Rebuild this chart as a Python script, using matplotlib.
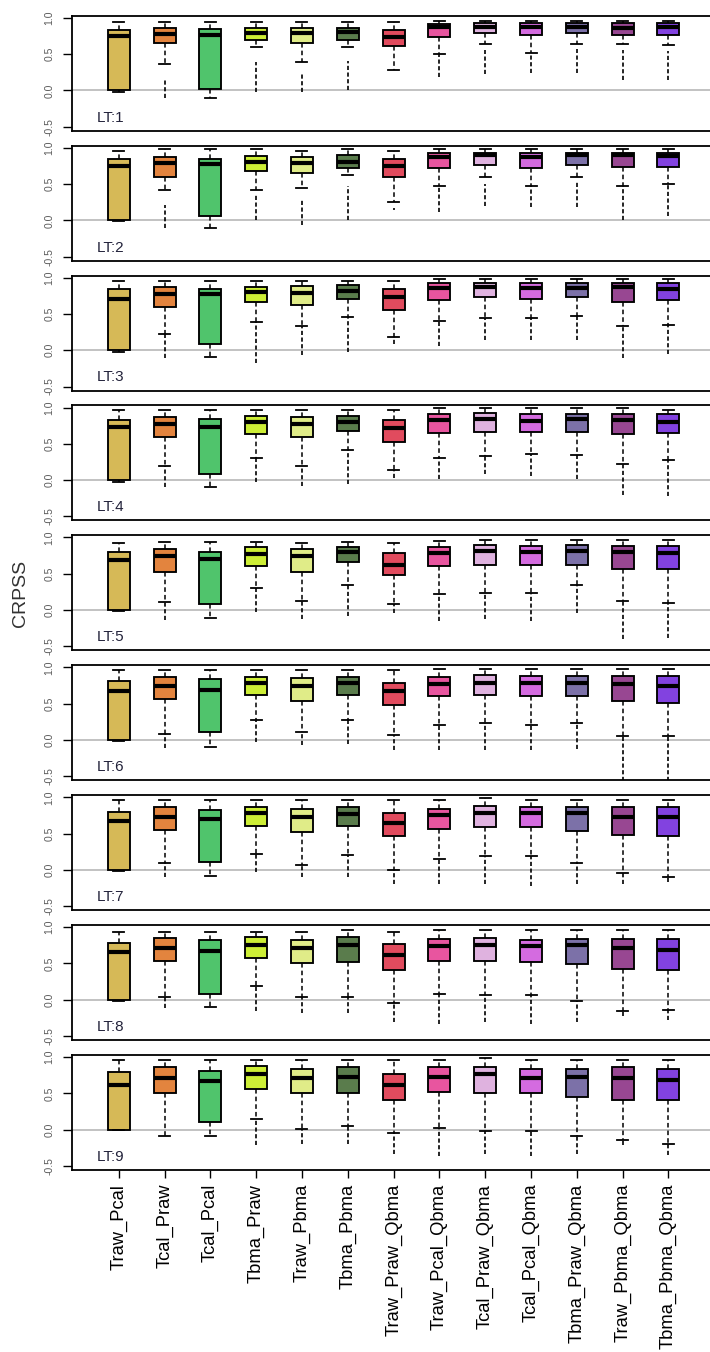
import matplotlib
matplotlib.use("Agg")
import matplotlib.pyplot as plt

plt.rcParams["font.family"] = ["Liberation Sans", "DejaVu Sans"]

methods = ["Traw_Pcal", "Tcal_Praw", "Tcal_Pcal", "Tbma_Praw", "Traw_Pbma",
           "Tbma_Pbma", "Traw_Praw_Qbma", "Traw_Pcal_Qbma", "Tcal_Praw_Qbma",
           "Tcal_Pcal_Qbma", "Tbma_Praw_Qbma", "Traw_Pbma_Qbma", "Tbma_Pbma_Qbma"]
lead_times = ["LT:1", "LT:2", "LT:3", "LT:4", "LT:5", "LT:6", "LT:7", "LT:8", "LT:9"]
colors = ["#D6B957", "#E3843E", "#50C46C", "#CDEE36", "#E0EC88", "#5A7C4C",
          "#E14B5E", "#E8559F", "#DFB2DF", "#D46BE0", "#7C71A8", "#984792", "#8242E0"]

# upper whisker end (max)
upper = [
    [.94, .94, .94, .94, .94, .94, .94, .96, .96, .96, .96, .96, .96],
    [.96, .98, .98, .98, .96, .98, .96, .98, .98, .98, .98, .98, .98],
    [.96, .96, .96, .96, .96, .96, .96, .98, .98, .98, .98, .98, .98],
    [.96, .97, .97, .97, .97, .97, .97, .99, .99, .99, .99, .99, .97],
    [.93, .94, .94, .94, .93, .94, .92, .95, .96, .96, .96, .96, .96],
    [.96, .96, .96, .96, .96, .96, .96, .98, .98, .98, .98, .98, .98],
    [.96, .96, .96, .96, .96, .96, .96, .96, .99, .96, .96, .96, .96],
    [.94, .94, .94, .94, .94, .96, .94, .96, .96, .96, .96, .96, .96],
    [.96, .96, .96, .96, .96, .96, .96, .96, .99, .96, .96, .96, .96],
]
# third quartile
q3 = [
    [.83, .86, .84, .86, .86, .86, .83, .91, .93, .93, .93, .93, .93],
    [.84, .87, .85, .89, .87, .90, .85, .93, .93, .93, .93, .93, .93],
    [.84, .87, .84, .87, .88, .90, .84, .93, .93, .92, .93, .92, .92],
    [.83, .87, .84, .88, .87, .88, .83, .91, .93, .91, .91, .91, .91],
    [.80, .84, .80, .87, .84, .87, .78, .87, .90, .88, .89, .88, .88],
    [.81, .87, .84, .87, .85, .87, .79, .87, .89, .88, .88, .88, .88],
    [.80, .87, .82, .87, .84, .87, .79, .84, .88, .87, .87, .87, .87],
    [.78, .85, .82, .86, .82, .86, .77, .84, .85, .83, .84, .84, .84],
    [.80, .86, .81, .88, .84, .86, .77, .86, .86, .84, .84, .86, .84],
]
# median
median = [
    [.75, .78, .76, .79, .79, .80, .73, .87, .88, .87, .87, .86, .87],
    [.75, .79, .77, .80, .79, .81, .75, .87, .90, .87, .90, .90, .88],
    [.71, .78, .78, .80, .79, .82, .73, .86, .87, .86, .86, .87, .85],
    [.73, .77, .73, .80, .78, .80, .72, .83, .84, .82, .84, .83, .80],
    [.69, .74, .70, .77, .74, .80, .62, .78, .82, .80, .82, .80, .78],
    [.67, .75, .69, .79, .75, .79, .67, .77, .79, .79, .79, .77, .75],
    [.67, .73, .70, .78, .73, .77, .65, .76, .78, .78, .78, .73, .73],
    [.66, .71, .67, .75, .71, .75, .62, .74, .76, .74, .76, .71, .69],
    [.62, .71, .67, .76, .71, .73, .62, .73, .76, .71, .73, .71, .69],
]
# first quartile
q1 = [
    [.00, .66, .02, .69, .66, .69, .61, .73, .79, .76, .79, .77, .77],
    [.00, .60, .06, .68, .65, .72, .60, .72, .76, .72, .76, .73, .73],
    [.00, .60, .08, .67, .63, .71, .56, .69, .73, .71, .73, .67, .69],
    [.00, .59, .08, .64, .59, .68, .52, .65, .67, .67, .67, .63, .65],
    [.00, .53, .08, .61, .53, .66, .48, .60, .62, .62, .62, .57, .57],
    [.00, .56, .11, .62, .54, .62, .48, .60, .62, .60, .60, .54, .51],
    [.00, .55, .11, .60, .52, .60, .47, .56, .59, .59, .54, .48, .47],
    [.00, .53, .08, .58, .50, .52, .41, .54, .54, .52, .49, .43, .41],
    [.00, .50, .11, .56, .50, .50, .41, .52, .50, .50, .45, .41, .41],
]
# lower whisker end
lower = [
    [-.02, .37, -.10, .60, .39, .60, .28, .50, .64, .51, .64, .64, .62],
    [-.01, .42, -.10, .42, .44, .62, .25, .48, .60, .47, .60, .48, .50],
    [-.02, .23, -.10, .39, .33, .46, .18, .40, .45, .45, .47, .33, .35],
    [-.02, .19, -.09, .31, .20, .41, .14, .31, .33, .36, .35, .22, .28],
    [-.02, .11, -.11, .31, .12, .35, .08, .22, .24, .24, .35, .13, .10],
    [-.01, .08, -.10, .27, .11, .27, .07, .21, .23, .21, .23, .05, .05],
    [-.02, .09, -.09, .22, .07, .20, .00, .15, .19, .19, .09, -.05, -.10],
    [-.02, .04, -.10, .19, .04, .04, -.04, .08, .06, .06, -.02, -.16, -.14],
    [.00, -.09, -.09, .15, .01, .05, -.04, .02, -.02, -.02, -.09, -.14, -.20],
]
# highest value lying below the lower whisker
out_top = [
    [-.02, .15, -.10, .39, .22, .41, .21, .50, .56, .51, .57, .56, .54],
    [-.01, .21, -.10, .36, .29, .47, .17, .48, .50, .47, .53, .48, .50],
    [-.02, .23, -.10, .39, .33, .46, .18, .40, .45, .45, .47, .33, .35],
    [-.02, .19, -.09, .31, .20, .41, .14, .31, .33, .36, .35, .22, .28],
    [-.02, .11, -.11, .31, .12, .35, .08, .22, .24, .24, .35, .13, .10],
    [-.01, .08, -.10, .27, .11, .27, .07, .21, .23, .21, .23, .05, .05],
    [-.02, .09, -.09, .22, .07, .20, .00, .15, .19, .19, .09, -.05, -.10],
    [-.02, .04, -.10, .19, .04, .04, -.04, .08, .06, .06, -.02, -.16, -.14],
    [.00, -.09, -.09, .15, .01, .05, -.04, .02, -.02, -.02, -.09, -.14, -.20],
]
# lowest value
out_min = [
    [-.02, -.11, -.10, -.02, -.02, .00, .21, .19, .23, .24, .24, .14, .14],
    [-.01, -.11, -.10, .00, -.06, .00, .14, .12, .20, .18, .18, .00, .06],
    [-.02, -.11, -.10, -.18, -.07, -.03, .08, .06, .14, .14, .14, -.11, -.05],
    [-.02, -.10, -.09, -.02, -.08, -.05, .03, .01, .08, .06, .01, -.20, -.22],
    [-.02, -.14, -.11, -.03, -.13, -.08, -.04, -.15, -.13, -.15, -.04, -.40, -.39],
    [-.01, -.11, -.10, -.03, -.07, -.05, -.14, -.14, -.14, -.14, -.13, -.56, -.56],
    [-.02, -.10, -.09, -.03, -.10, -.10, -.20, -.20, -.20, -.22, -.20, -.20, -.17],
    [-.02, -.12, -.10, -.16, -.18, -.18, -.31, -.33, -.31, -.33, -.31, -.23, -.28],
    [.00, -.09, -.09, -.21, -.20, -.20, -.34, -.36, -.34, -.36, -.34, -.21, -.35],
]

W, H = 710, 1352
fig = plt.figure(figsize=(W / 100, H / 100), dpi=100)

left_px, width_px = 71.6, 644.0
top0_px, pitch_px, panel_h = 15.7, 129.9, 115.0
positions = list(range(1, len(methods) + 1))

for p, lt in enumerate(lead_times):
    top_px = top0_px + pitch_px * p
    ax = fig.add_axes([left_px / W, 1 - (top_px + panel_h) / H,
                       width_px / W, panel_h / H])
    ax.set_xlim(-0.03, 14.03)
    ax.set_ylim(-0.555, 1.03)
    ax.axhline(0, color="#bdbdbd", lw=1.3, zorder=0)

    stats = []
    for k in range(len(methods)):
        stats.append(dict(med=median[p][k], q1=q1[p][k], q3=q3[p][k],
                          whislo=lower[p][k], whishi=upper[p][k], fliers=[]))
    bp = ax.bxp(stats, positions=positions, widths=0.48, capwidths=0.24,
                patch_artist=True, showfliers=False,
                boxprops=dict(linewidth=1.35, edgecolor="black"),
                medianprops=dict(color="black", linewidth=3.0,
                                 solid_capstyle="butt"),
                whiskerprops=dict(color="black", linewidth=1.1,
                                  linestyle=(0, (3, 2))),
                capprops=dict(color="black", linewidth=1.3))
    for patch, c in zip(bp["boxes"], colors):
        patch.set_facecolor(c)

    # values below the lower whisker, drawn as a dense run of points
    for k, x in enumerate(positions):
        if out_min[p][k] < out_top[p][k] - 1e-9:
            ax.vlines(x, out_min[p][k], out_top[p][k], colors="black",
                      linewidth=1.2, linestyles=(0, (2.5, 1.5)), zorder=1)

    ax.text(0.52, -0.43, lt, fontsize=11, color="#22223a", va="baseline")

    ax.set_yticks([-0.5, 0.0, 0.5, 1.0])
    ax.set_yticklabels(["-0.5", "0.0", "0.5", "1.0"])
    ax.tick_params(axis="y", length=6.5, width=1.0, pad=6, labelsize=7.5,
                   labelcolor="#5a5a5a", labelrotation=90)
    for lab in ax.get_yticklabels():
        lab.set_va("center")
    for sp in ax.spines.values():
        sp.set_linewidth(1.3)

    if p == len(lead_times) - 1:
        ax.set_xticks(positions)
        ax.set_xticklabels(methods, rotation=90, fontsize=13.2)
        ax.tick_params(axis="x", length=6, width=1.0, pad=4)
    else:
        ax.set_xticks([])

fig.text(21 / W, 1 - 593 / H, "CRPSS", rotation=90, fontsize=14,
         color="#333333", ha="center", va="center")

fig.savefig("out.png", dpi=100)
